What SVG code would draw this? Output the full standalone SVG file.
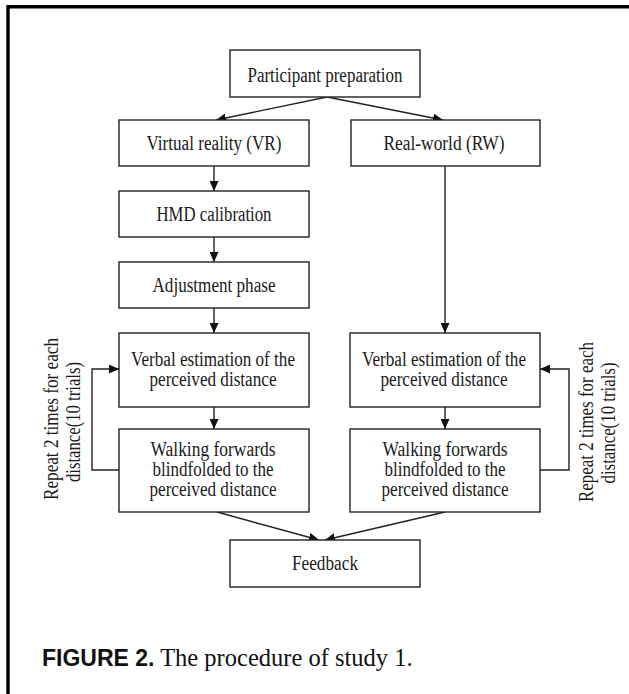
<svg xmlns="http://www.w3.org/2000/svg" width="629" height="694" viewBox="0 0 629 694">
  <style>
    .box { fill: #fff; stroke: #222; stroke-width: 1.4; }
    .lbl { font-family: "Liberation Serif", "Times New Roman", serif; font-size: 20px; fill: #1a1a1a; text-anchor: middle; }
    .con { fill: none; stroke: #222; stroke-width: 1.4; }
    .frame { stroke: #000; stroke-width: 3.4; fill: none; }
  </style>
  <defs>
    <marker id="arr" viewBox="0 0 10 9" refX="10" refY="4.5" markerWidth="10" markerHeight="9" markerUnits="userSpaceOnUse" orient="auto">
      <path d="M0,0 L10,4.5 L0,9 z" fill="#111"/>
    </marker>
  </defs>

  <rect width="629" height="694" fill="#fff"/>

  <!-- page frame: top and left rules -->
  <path class="frame" d="M8,694 V6.7 H629"/>

  <!-- connectors -->
  <g id="connectors" class="con" marker-end="url(#arr)">
    <path d="M327,97 L216,120"/>
    <path d="M327,97 L443,120"/>
    <path d="M214,166 V191"/>
    <path d="M214,237 V262"/>
    <path d="M214,308 V333"/>
    <path d="M214,407 V429"/>
    <path d="M445,166 V333"/>
    <path d="M445,407 V429"/>
    <path d="M119,470 H92 V369 H119"/>
    <path d="M540,470 H569 V369 H540"/>
    <path d="M217,512 L319,540"/>
    <path d="M445,512 L325,540"/>
  </g>

  <g id="prep">
    <rect class="box" x="230" y="50" width="190" height="47"/>
    <text class="lbl" x="325" y="82" textLength="155" lengthAdjust="spacingAndGlyphs">Participant preparation</text>
  </g>
  <g id="vr">
    <rect class="box" x="119" y="120" width="190" height="46"/>
    <text class="lbl" x="214" y="150" textLength="135" lengthAdjust="spacingAndGlyphs">Virtual reality (VR)</text>
  </g>
  <g id="rw">
    <rect class="box" x="351" y="120" width="189" height="46"/>
    <text class="lbl" x="444" y="150" textLength="121" lengthAdjust="spacingAndGlyphs">Real-world (RW)</text>
  </g>
  <g id="hmd">
    <rect class="box" x="119" y="191" width="190" height="46"/>
    <text class="lbl" x="214" y="221" textLength="115" lengthAdjust="spacingAndGlyphs">HMD calibration</text>
  </g>
  <g id="adjust">
    <rect class="box" x="119" y="262" width="190" height="46"/>
    <text class="lbl" x="214" y="292" textLength="123" lengthAdjust="spacingAndGlyphs">Adjustment phase</text>
  </g>
  <g id="verbal-vr">
    <rect class="box" x="119" y="333" width="190" height="74"/>
    <text class="lbl" x="213" y="366" textLength="164" lengthAdjust="spacingAndGlyphs">Verbal estimation of the</text>
    <text class="lbl" x="213" y="386" textLength="127" lengthAdjust="spacingAndGlyphs">perceived distance</text>
  </g>
  <g id="walk-vr">
    <rect class="box" x="119" y="429" width="190" height="83"/>
    <text class="lbl" x="213" y="456" textLength="125" lengthAdjust="spacingAndGlyphs">Walking forwards</text>
    <text class="lbl" x="213" y="476" textLength="121" lengthAdjust="spacingAndGlyphs">blindfolded to the</text>
    <text class="lbl" x="213" y="496" textLength="127" lengthAdjust="spacingAndGlyphs">perceived distance</text>
  </g>
  <g id="verbal-rw">
    <rect class="box" x="350" y="333" width="190" height="74"/>
    <text class="lbl" x="444" y="366" textLength="164" lengthAdjust="spacingAndGlyphs">Verbal estimation of the</text>
    <text class="lbl" x="444" y="386" textLength="127" lengthAdjust="spacingAndGlyphs">perceived distance</text>
  </g>
  <g id="walk-rw">
    <rect class="box" x="350" y="429" width="190" height="83"/>
    <text class="lbl" x="445" y="456" textLength="125" lengthAdjust="spacingAndGlyphs">Walking forwards</text>
    <text class="lbl" x="445" y="476" textLength="121" lengthAdjust="spacingAndGlyphs">blindfolded to the</text>
    <text class="lbl" x="445" y="496" textLength="127" lengthAdjust="spacingAndGlyphs">perceived distance</text>
  </g>
  <g id="feedback">
    <rect class="box" x="230" y="540" width="190" height="47"/>
    <text class="lbl" x="325" y="570" textLength="66" lengthAdjust="spacingAndGlyphs">Feedback</text>
  </g>

  <!-- loop labels, read bottom to top -->
  <g id="repeat-vr" class="lbl">
    <text transform="translate(58,419) rotate(-90)" textLength="162" lengthAdjust="spacingAndGlyphs">Repeat 2 times for each</text>
    <text transform="translate(80,422) rotate(-90)" textLength="120" lengthAdjust="spacingAndGlyphs">distance(10 trials)</text>
  </g>
  <g id="repeat-rw" class="lbl">
    <text transform="translate(593,422) rotate(-90)" textLength="160" lengthAdjust="spacingAndGlyphs">Repeat 2 times for each</text>
    <text transform="translate(615,423) rotate(-90)" textLength="121" lengthAdjust="spacingAndGlyphs">distance(10 trials)</text>
  </g>

  <!-- caption -->
  <text id="caption" x="42" y="666" fill="#111"><tspan font-family="'Liberation Sans', Arial, sans-serif" font-weight="bold" font-size="23">FIGURE 2.</tspan><tspan font-family="'Liberation Serif', 'Times New Roman', serif" font-size="24.5"> The procedure of study 1.</tspan></text>
</svg>
